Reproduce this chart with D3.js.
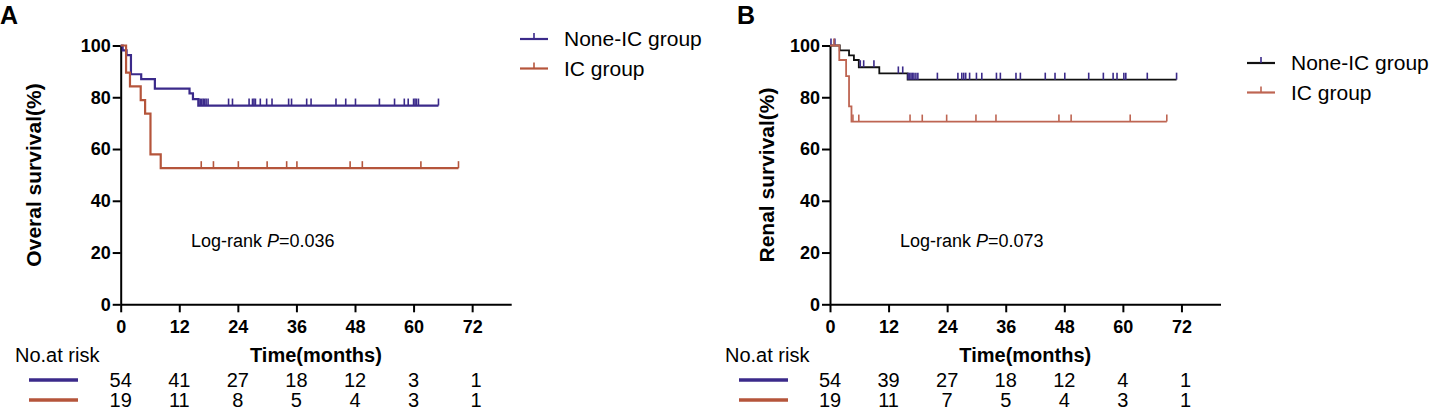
<!DOCTYPE html>
<meta charset="utf-8">
<style>
body { margin: 0; background: #fff; }
svg { font-family: "Liberation Sans", Arial, sans-serif; }
.axis path, .axis line { stroke: #000; stroke-width: 2; }
.axis text { font-size: 18px; font-weight: bold; fill: #000; }
</style>
<body>
<script src="https://d3js.org/d3.v7.min.js"></script>
<script>
// ---- data ----
var timeTicks = [0, 12, 24, 36, 48, 60, 72];
var survTicks = [0, 20, 40, 60, 80, 100];
var groupNames = ["None-IC group", "IC group"];

// A: overall survival
var osNoneTimes = [0, 0.4, 1.2, 2.1, 4.2, 7.0, 14.1, 14.8, 15.9, 65.1];
var osNoneSurv  = [100, 98.1, 96.3, 88.9, 87.0, 83.3, 81.5, 79.3, 76.8, 76.8];
var osNoneCens  = [16.0, 16.3, 16.6, 16.9, 17.2, 17.5, 17.9, 22.1, 22.9, 26.3, 27.0, 27.3, 27.6, 28.6, 29.9, 31.0,
                   34.4, 35.0, 38.1, 39.0, 44.1, 46.1, 48.1, 53.0, 56.1, 58.1, 58.9, 60.0, 60.3, 60.6, 61.0, 65.1];
var osIcTimes = [0, 1.1, 1.9, 4.1, 5.0, 6.1, 8.2, 69.2];
var osIcSurv  = [100, 89.5, 84.2, 78.9, 73.7, 57.9, 52.6, 52.6];
var osIcCens  = [16.5, 19.0, 24.1, 30.0, 34.0, 36.1, 47.0, 49.5, 61.5, 69.2];
var osRiskNone = [54, 41, 27, 18, 12, 3, 1];
var osRiskIc   = [19, 11, 8, 5, 4, 3, 1];

// B: renal survival
var rsNoneTimes = [0, 2.0, 3.9, 4.9, 5.9, 10.1, 15.9, 71.0];
var rsNoneSurv  = [100, 98.1, 96.2, 94.4, 91.6, 89.2, 86.8, 86.8];
var rsNoneCens  = [0.2, 1.0, 6.2, 6.9, 9.0, 14.0, 14.9, 16.0, 16.3, 16.6, 16.9, 17.2, 17.6, 18.0, 22.0,
                   26.2, 27.0, 27.4, 27.8, 28.6, 30.0, 31.1, 34.1, 34.9, 38.1, 39.0, 44.1, 46.1, 48.1,
                   53.0, 56.0, 58.0, 58.8, 60.2, 60.6, 65.0, 71.0];
var rsIcTimes = [0, 1.9, 3.3, 3.9, 4.4, 69.0];
var rsIcSurv  = [100, 94.4, 88.2, 76.5, 70.6, 70.6];
var rsIcCens  = [0.8, 4.7, 5.9, 16.4, 18.9, 23.9, 29.9, 34.0, 46.9, 49.4, 61.5, 69.0];
var rsRiskNone = [54, 39, 27, 18, 12, 4, 1];
var rsRiskIc   = [19, 11, 7, 5, 4, 3, 1];

var svg = d3.select("body").append("svg").attr("width", 1432).attr("height", 411);

function survAt(times, surv, t) {
  var i = d3.bisectRight(times, t) - 1;
  return surv[Math.max(0, i)];
}

function panel(p) {
  var x = d3.scaleLinear().domain([0, 80]).range([p.x0, p.x0 + 390.5]),
      y = d3.scaleLinear().domain([0, 100]).range([304.3, 45.5]);
  var g = svg.append("g");

  g.append("text").attr("x", p.labelX).attr("y", 24)
    .style("font-size", "25px").style("font-weight", "bold").text(p.label);

  g.append("g").attr("class", "axis")
    .attr("transform", "translate(0," + y(0) + ")")
    .call(d3.axisBottom(x).tickValues(timeTicks).tickSize(8).tickPadding(8).tickSizeOuter(0));
  g.append("g").attr("class", "axis")
    .attr("transform", "translate(" + x(0) + ",0)")
    .call(d3.axisLeft(y).tickValues(survTicks).tickSize(8).tickPadding(2).tickSizeOuter(0));

  g.append("text")
    .attr("transform", "translate(" + p.titleX + ",175) rotate(-90)")
    .attr("text-anchor", "middle").attr("dy", "0.35em")
    .style("font-size", "21px").style("font-weight", "bold").text(p.yTitle);

  var line = d3.line().curve(d3.curveStepAfter)
    .x(function(d) { return x(d[0]); }).y(function(d) { return y(d[1]); });

  p.series.forEach(function(s) {
    var pts = d3.zip(s.times, s.surv);
    g.append("path").attr("d", line(pts))
      .attr("fill", "none").attr("stroke", s.lineColor).attr("stroke-width", p.lw);
    g.selectAll(null).data(s.cens).enter().append("line")
      .attr("x1", function(d) { return x(d); }).attr("x2", function(d) { return x(d); })
      .attr("y1", function(d) { return y(survAt(s.times, s.surv, d)); })
      .attr("y2", function(d) { return y(survAt(s.times, s.surv, d)) - 7; })
      .attr("stroke", s.tickColor).attr("stroke-width", 1.6);
  });

  g.append("text").attr("x", p.logX).attr("y", 241).attr("dy", "0.35em")
    .style("font-size", "18px")
    .call(function(t) {
      t.append("tspan").text("Log-rank ");
      t.append("tspan").style("font-style", "italic").text("P");
      t.append("tspan").text("=" + p.pval);
    });

  // legend
  p.series.forEach(function(s, i) {
    var ly = p.legY + i * 29.5;
    g.append("line").attr("x1", p.legX).attr("x2", p.legX + 28).attr("y1", ly).attr("y2", ly)
      .attr("stroke", s.legColor).attr("stroke-width", 2.2);
    g.append("line").attr("x1", p.legX + 14).attr("x2", p.legX + 14).attr("y1", ly).attr("y2", ly - 6)
      .attr("stroke", s.tickColor).attr("stroke-width", 1.6);
    g.append("text").attr("x", p.legX + 44).attr("y", ly).attr("dy", "0.35em")
      .style("font-size", "21px").text(groupNames[i]);
  });

  // x title and risk table
  g.append("text").attr("x", (x(0) + x(80)) / 2).attr("y", 355).attr("dy", "0.35em")
    .attr("text-anchor", "middle").style("font-size", "20px").style("font-weight", "bold")
    .text("Time(months)");
  g.append("text").attr("x", p.riskX).attr("y", 355).attr("dy", "0.35em")
    .style("font-size", "20px").text("No.at risk");
  p.series.forEach(function(s, i) {
    var ry = 380 + i * 20;
    g.append("line").attr("x1", p.riskX + 14).attr("x2", p.riskX + 63).attr("y1", ry).attr("y2", ry)
      .attr("stroke", s.riskColor).attr("stroke-width", 3.5);
    g.selectAll(null).data(s.risk).enter().append("text")
      .attr("x", function(d, j) { return x(timeTicks[j]) + (j === 6 ? 4 : 0); })
      .attr("y", ry).attr("dy", "0.35em").attr("text-anchor", "middle")
      .style("font-size", "20px").text(function(d) { return d; });
  });
}

var navy = "#3b2a8a", rust = "#b5553b", rustB = "#be6552";

panel({
  label: "A", labelX: 0, x0: 120.7, titleX: 34, yTitle: "Overal survival(%)",
  logX: 191, pval: "0.036", legX: 520, legY: 39, riskX: 15, lw: 2.2,
  series: [
    {times: osNoneTimes, surv: osNoneSurv, cens: osNoneCens, risk: osRiskNone,
     lineColor: navy, tickColor: navy, legColor: navy, riskColor: navy},
    {times: osIcTimes, surv: osIcSurv, cens: osIcCens, risk: osRiskIc,
     lineColor: rust, tickColor: rust, legColor: rust, riskColor: rust}
  ]
});

panel({
  label: "B", labelX: 737, x0: 830, titleX: 767, yTitle: "Renal survival(%)",
  logX: 900, pval: "0.073", legX: 1247, legY: 63, riskX: 725, lw: 1.8,
  series: [
    {times: rsNoneTimes, surv: rsNoneSurv, cens: rsNoneCens, risk: rsRiskNone,
     lineColor: "#111", tickColor: navy, legColor: "#111", riskColor: navy},
    {times: rsIcTimes, surv: rsIcSurv, cens: rsIcCens, risk: rsRiskIc,
     lineColor: rustB, tickColor: rustB, legColor: rustB, riskColor: rust}
  ]
});
</script>
</body>
